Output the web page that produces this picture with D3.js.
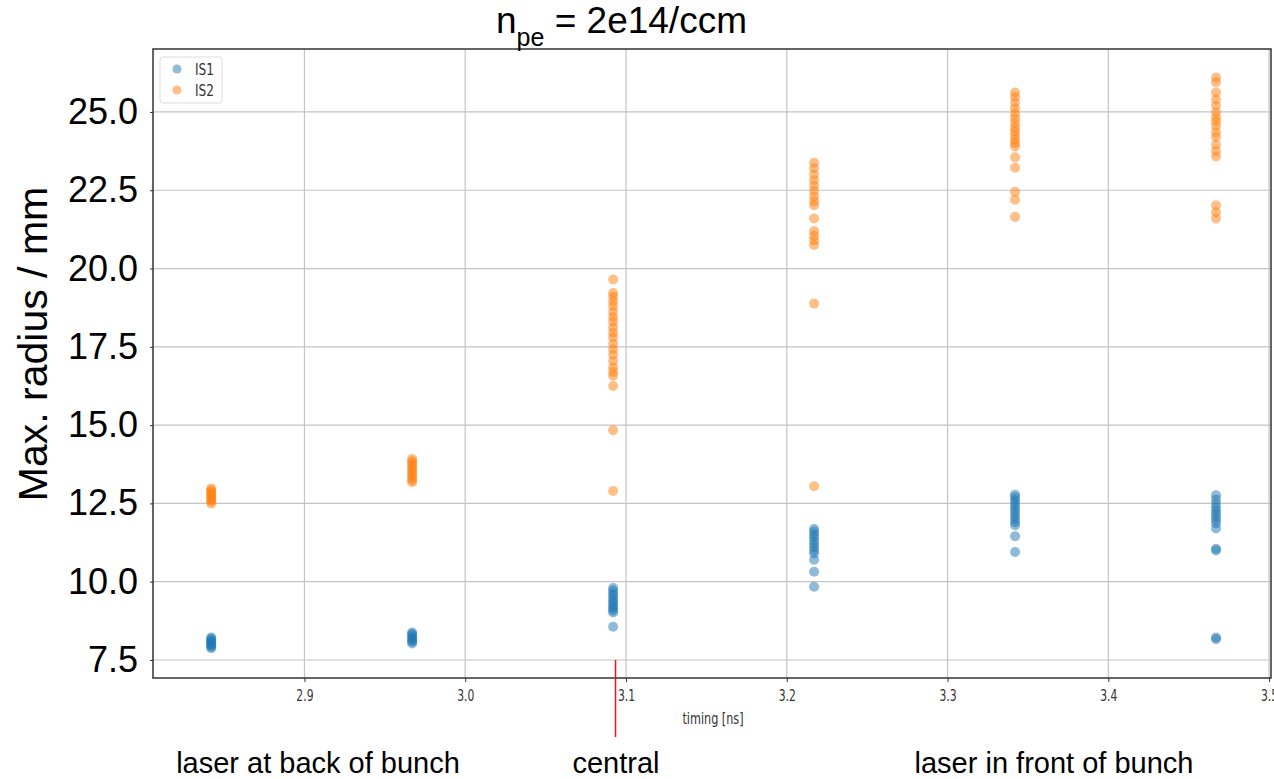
<!DOCTYPE html>
<html>
<head>
<meta charset="utf-8">
<script src="https://cdn.jsdelivr.net/npm/d3@7/dist/d3.min.js"></script>
<style>
  body { margin: 0; background: #fff; }
  svg { display: block; }
</style>
</head>
<body>
<div id="root"></div>
<script>
// timing of each shot group [ns]
const timings = [2.842, 2.967, 3.092, 3.217, 3.342, 3.467];

// IS1 max radius per timing [mm]
const is1 = [
  [8.22, 8.18, 8.12, 8.08, 8.04, 8.0, 7.96, 7.92, 7.88],
  [8.38, 8.33, 8.28, 8.22, 8.17, 8.12, 8.08, 8.03],
  [9.8, 9.72, 9.62, 9.55, 9.45, 9.38, 9.3, 9.22, 9.15, 9.08, 9.02, 8.56],
  [11.68, 11.6, 11.5, 11.42, 11.3, 11.2, 11.1, 11.0, 10.9, 10.7, 10.32, 9.84],
  [12.78, 12.7, 12.6, 12.5, 12.4, 12.3, 12.2, 12.1, 12.0, 11.9, 11.8, 11.45, 10.95],
  [12.76, 12.62, 12.48, 12.36, 12.26, 12.16, 12.06, 11.96, 11.86, 11.7, 11.05, 11.0, 8.22, 8.16]
];

// IS2 max radius per timing [mm]
const is2 = [
  [12.98, 12.92, 12.86, 12.8, 12.74, 12.68, 12.62, 12.56, 12.5],
  [13.92, 13.85, 13.78, 13.7, 13.62, 13.55, 13.48, 13.4, 13.32, 13.24, 13.18],
  [19.65, 19.22, 19.1, 18.95, 18.8, 18.62, 18.45, 18.3, 18.12, 17.95, 17.8, 17.6, 17.42, 17.25, 17.05, 16.85, 16.7, 16.58, 16.25, 14.84, 12.9],
  [23.38, 23.2, 23.0, 22.82, 22.65, 22.48, 22.3, 22.15, 22.02, 21.6, 21.2, 21.05, 20.9, 20.75, 18.88, 13.05],
  [25.62, 25.48, 25.3, 25.12, 24.95, 24.8, 24.65, 24.5, 24.38, 24.25, 24.12, 24.0, 23.9, 23.55, 23.22, 22.45, 22.2, 21.65],
  [26.1, 25.95, 25.62, 25.4, 25.2, 24.98, 24.82, 24.7, 24.55, 24.35, 24.2, 23.95, 23.75, 23.58, 22.02, 21.8, 21.6]
];

const xTicks = [2.9, 3.0, 3.1, 3.2, 3.3, 3.4, 3.5];
const yTicks = [7.5, 10.0, 12.5, 15.0, 17.5, 20.0, 22.5, 25.0];
const seriesNames = ["IS1", "IS2"];
const seriesColors = ["#1f77b4", "#ff7f0e"];
const regionLabels = ["laser at back of bunch", "central", "laser in front of bunch"];
const regionX = [318, 616, 1054];
const centralTiming = 3.0935;

const W = 1274, H = 779;
const m = { left: 153, right: 3, top: 49, bottom: 101 };
const smallFont = "'DejaVu Sans Condensed', 'DejaVu Sans', sans-serif";
const bigFont = "'Liberation Sans', Arial, sans-serif";

const svg = d3.select("#root").append("svg")
  .attr("width", W).attr("height", H);

const x = d3.scaleLinear().domain([2.8058, 3.5012]).range([m.left, W - m.right]);
const y = d3.scaleLinear().domain([6.925, 27.01]).range([H - m.bottom, m.top]);

// grid
const grid = svg.append("g");
grid.selectAll(".gx").data(xTicks).enter().append("line")
  .attr("x1", d => x(d)).attr("x2", d => x(d))
  .attr("y1", m.top).attr("y2", H - m.bottom)
  .attr("stroke", "#c4c4c4").attr("stroke-width", 1.2);
grid.selectAll(".gy").data(yTicks).enter().append("line")
  .attr("x1", m.left).attr("x2", W - m.right)
  .attr("y1", d => y(d)).attr("y2", d => y(d))
  .attr("stroke", "#c4c4c4").attr("stroke-width", 1.2);

// axes
const xAxis = svg.append("g")
  .attr("transform", `translate(0,${H - m.bottom})`)
  .call(d3.axisBottom(x).tickValues(xTicks).tickFormat(d3.format(".1f")).tickSize(4).tickSizeOuter(0));
xAxis.select(".domain").remove();
xAxis.selectAll("line").attr("stroke", "#333");
// the screenshot is a bit stretched vertically, so stretch the small labels too
xAxis.selectAll("text")
  .attr("y", 0).attr("dy", 0)
  .attr("transform", "translate(0,23) scale(1,1.34)")
  .attr("font-family", smallFont)
  .attr("font-size", 12).attr("fill", "#333");

const yAxis = svg.append("g")
  .attr("transform", `translate(${m.left},0)`)
  .call(d3.axisLeft(y).tickValues(yTicks).tickFormat(d3.format(".1f")).tickSize(3).tickPadding(12).tickSizeOuter(0));
yAxis.select(".domain").remove();
yAxis.selectAll("line").attr("stroke", "#333");
yAxis.selectAll("text")
  .attr("font-family", bigFont)
  .attr("font-size", 36).attr("fill", "#000");

// frame
svg.append("rect")
  .attr("x", m.left).attr("y", m.top)
  .attr("width", W - m.right - m.left).attr("height", H - m.bottom - m.top)
  .attr("fill", "none").attr("stroke", "#333").attr("stroke-width", 1.5);

// points
[is1, is2].forEach((series, si) => {
  const pts = [];
  series.forEach((vals, i) => vals.forEach(v => pts.push({ t: timings[i], v: v })));
  svg.append("g").selectAll("circle").data(pts).enter().append("circle")
    .attr("cx", d => x(d.t)).attr("cy", d => y(d.v)).attr("r", 5)
    .attr("fill", seriesColors[si]).attr("fill-opacity", 0.5);
});

// legend
const lg = svg.append("g").attr("transform", "translate(160,57)");
lg.append("rect").attr("width", 62).attr("height", 46).attr("rx", 3)
  .attr("fill", "#fff").attr("stroke", "#ddd");
seriesNames.forEach((n, i) => {
  lg.append("circle").attr("cx", 17).attr("cy", 12 + i * 21).attr("r", 4.5)
    .attr("fill", seriesColors[i]).attr("fill-opacity", 0.5);
  lg.append("text")
    .attr("transform", `translate(35,${18 + i * 21}) scale(1,1.22)`)
    .text(n)
    .attr("font-family", smallFont)
    .attr("font-size", 13.5).attr("fill", "#333");
});

// x label
svg.append("text")
  .attr("transform", "translate(713,724) scale(1,1.3)")
  .attr("text-anchor", "middle")
  .attr("font-family", smallFont)
  .attr("font-size", 12.5).attr("fill", "#333").text("timing [ns]");

// y label
svg.append("text")
  .attr("transform", "translate(47,344) rotate(-90)")
  .attr("text-anchor", "middle")
  .attr("font-family", bigFont)
  .attr("font-size", 41).attr("fill", "#000").text("Max. radius / mm");

// title
const title = svg.append("text").attr("x", 496).attr("y", 33)
  .attr("font-family", bigFont)
  .attr("font-size", 37).attr("fill", "#000");
title.append("tspan").text("n");
title.append("tspan").attr("font-size", 25).attr("dy", 13).text("pe");
title.append("tspan").attr("dy", -13).text(" = 2e14/ccm");

// red marker for central timing
svg.append("line")
  .attr("x1", x(centralTiming)).attr("x2", x(centralTiming))
  .attr("y1", y(7.5)).attr("y2", 737)
  .attr("stroke", "#e8141c").attr("stroke-width", 1.5);

// region labels
svg.selectAll(".region").data(regionLabels).enter().append("text")
  .attr("x", (d, i) => regionX[i]).attr("y", 773).attr("text-anchor", "middle")
  .attr("font-family", bigFont)
  .attr("font-size", 29).attr("fill", "#000").text(d => d);
</script>
</body>
</html>
